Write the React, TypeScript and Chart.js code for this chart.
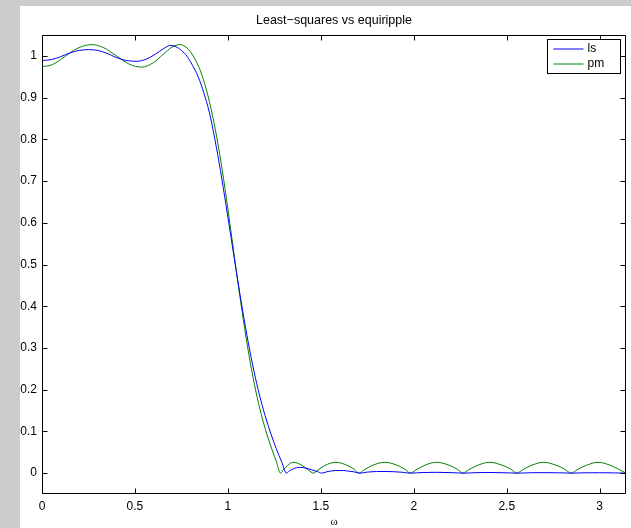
import React, { useEffect, useRef } from "react";
import { Chart, registerables } from "chart.js";

Chart.register(...registerables);

const chartTitle = "Least\u2212squares vs equiripple";
const xAxisLabel = "\u03c9";
const seriesLabels = ["ls", "pm"];
const seriesColors = ["#0000ff", "#008000"];

const xTicks = [0, 0.5, 1, 1.5, 2, 2.5, 3];
const yTicks = [0, 0.1, 0.2, 0.3, 0.4, 0.5, 0.6, 0.7, 0.8, 0.9, 1];
const xMin = 0;
const xMax = 3.1416;
const yMin = -0.05;
const yMax = 1.05;

// least-squares design (ls)
const lsOmega = [
  0.0, 0.05, 0.1, 0.15, 0.2, 0.25, 0.3, 0.35, 0.4, 0.45, 0.51, 0.56, 0.61, 0.65, 0.69, 0.72, 0.75, 0.78,
  0.81, 0.84, 0.87, 0.9, 0.93, 0.96, 0.99, 1.02, 1.05, 1.08, 1.11, 1.14, 1.17, 1.2, 1.23, 1.26, 1.29,
  1.315, 1.33, 1.35, 1.37, 1.39, 1.42, 1.45, 1.48, 1.504, 1.53, 1.56, 1.6, 1.64, 1.68, 1.71, 1.75, 1.8,
  1.84, 1.89, 1.94, 1.98, 2.05, 2.12, 2.2, 2.27, 2.34, 2.41, 2.48, 2.56, 2.63, 2.7, 2.78, 2.85, 2.92, 3.0,
  3.08, 3.1416,
];
const lsValues = [
  0.989, 0.991, 0.998, 1.007, 1.013, 1.015, 1.013, 1.006, 0.996, 0.989, 0.987, 0.992, 1.004, 1.016, 1.025,
  1.022, 1.013, 0.999, 0.977, 0.95, 0.912, 0.865, 0.8, 0.725, 0.642, 0.556, 0.47, 0.388, 0.312, 0.245,
  0.187, 0.138, 0.096, 0.059, 0.026, 0.0, 0.005, 0.01, 0.013, 0.0136, 0.012, 0.008, 0.004, 0.0, 0.003,
  0.0055, 0.0064, 0.0055, 0.003, 0.0, 0.0025, 0.0038, 0.004, 0.0035, 0.002, 0.0, 0.0015, 0.002, 0.0012,
  0.0, 0.0012, 0.0015, 0.001, 0.0, 0.001, 0.0012, 0.0008, 0.0, 0.0008, 0.001, 0.0006, 0.0,
];

// equiripple design (pm)
const pmOmega = [
  0.0, 0.05, 0.1, 0.15, 0.2, 0.267, 0.33, 0.4, 0.47, 0.536, 0.6, 0.65, 0.7, 0.742, 0.78, 0.81, 0.845,
  0.876, 0.91, 0.94, 0.97, 1.0, 1.03, 1.06, 1.09, 1.12, 1.15, 1.18, 1.21, 1.24, 1.26, 1.283, 1.3, 1.32,
  1.351, 1.38, 1.41, 1.435, 1.459, 1.48, 1.52, 1.581, 1.64, 1.68, 1.706, 1.73, 1.78, 1.844, 1.91, 1.95,
  1.982, 2.01, 2.06, 2.122, 2.19, 2.235, 2.265, 2.295, 2.345, 2.409, 2.475, 2.52, 2.555, 2.585, 2.635,
  2.699, 2.765, 2.81, 2.848, 2.878, 2.93, 2.991, 3.05, 3.1, 3.1416,
];
const pmValues = [
  0.974, 0.978, 0.991, 1.007, 1.02, 1.027, 1.02, 1.0, 0.98, 0.973, 0.984, 1.003, 1.021, 1.027, 1.019,
  1.002, 0.972, 0.932, 0.872, 0.805, 0.725, 0.633, 0.535, 0.438, 0.347, 0.266, 0.197, 0.14, 0.093,
  0.053, 0.029, 0.0, 0.009, 0.018, 0.026, 0.023, 0.015, 0.007, 0.0, 0.006, 0.018, 0.026, 0.019, 0.009,
  0.0, 0.007, 0.019, 0.026, 0.019, 0.01, 0.0, 0.007, 0.019, 0.026, 0.019, 0.009, 0.0, 0.008, 0.019,
  0.026, 0.019, 0.01, 0.0, 0.008, 0.019, 0.026, 0.019, 0.01, 0.0, 0.008, 0.019, 0.026, 0.02, 0.01, 0.0,
];

const FONT = '"Liberation Sans", Arial, Helvetica, sans-serif';

const matlabAxes = {
  id: "matlabAxes",
  afterDatasetsDraw(chart: any) {
    const { ctx, chartArea: a, scales } = chart;
    const xs = scales.x;
    const ys = scales.y;
    const L = Math.round(a.left) + 0.5;
    const R = Math.round(a.right) - 0.5;
    const T = Math.round(a.top) + 0.5;
    const B = Math.round(a.bottom) - 0.5;
    const tl = 5;
    ctx.save();
    ctx.strokeStyle = "#000000";
    ctx.lineWidth = 1;
    ctx.beginPath();
    ctx.rect(L, T, R - L, B - T);
    for (const v of xTicks) {
      const px = Math.round(xs.getPixelForValue(v)) + 0.5;
      ctx.moveTo(px, B);
      ctx.lineTo(px, B - tl);
      ctx.moveTo(px, T);
      ctx.lineTo(px, T + tl);
    }
    for (const v of yTicks) {
      const py = Math.round(ys.getPixelForValue(v)) + 0.5;
      ctx.moveTo(L, py);
      ctx.lineTo(L + tl, py);
      ctx.moveTo(R, py);
      ctx.lineTo(R - tl, py);
    }
    ctx.stroke();

    // legend box
    const bw = 73;
    const bh = 34;
    const bx = Math.round(a.right) - 6 - bw + 0.5;
    const by = Math.round(a.top) + 4 + 0.5;
    ctx.fillStyle = "#ffffff";
    ctx.fillRect(bx, by, bw, bh);
    ctx.strokeStyle = "#000000";
    ctx.strokeRect(bx, by, bw, bh);
    ctx.font = `12px ${FONT}`;
    ctx.textBaseline = "middle";
    ctx.textAlign = "left";
    chart.data.datasets.forEach((ds: any, i: number) => {
      const ry = Math.round(by + 9 + i * 15);
      ctx.strokeStyle = seriesColors[i];
      ctx.lineWidth = 1;
      ctx.beginPath();
      ctx.moveTo(bx + 6, ry);
      ctx.lineTo(bx + 36, ry);
      ctx.stroke();
      ctx.fillStyle = "#000000";
      ctx.fillText(ds.label, bx + 40, ry);
    });
    ctx.restore();
  },
};

export default function App() {
  const ref = useRef<HTMLCanvasElement>(null);
  useEffect(() => {
    const canvas = ref.current;
    if (!canvas) return;
    const chart = new Chart(canvas, {
      type: "line",
      data: {
        datasets: [
          {
            label: seriesLabels[0],
            data: lsOmega.map((x, i) => ({ x, y: lsValues[i] })),
            borderColor: seriesColors[0],
            borderWidth: 1,
            pointRadius: 0,
            cubicInterpolationMode: "monotone",
            fill: false,
          },
          {
            label: seriesLabels[1],
            data: pmOmega.map((x, i) => ({ x, y: pmValues[i] })),
            borderColor: seriesColors[1],
            borderWidth: 1,
            pointRadius: 0,
            cubicInterpolationMode: "monotone",
            fill: false,
          },
        ],
      },
      options: {
        animation: false,
        responsive: false,
        devicePixelRatio: 1,
        layout: { padding: { left: 0, right: 5, top: 0, bottom: 0 } },
        plugins: {
          legend: { display: false },
          tooltip: { enabled: false },
          title: {
            display: true,
            text: chartTitle,
            fullSize: false,
            color: "#000000",
            font: { family: FONT, size: 12.5, weight: "normal" },
            padding: { top: 7, bottom: 7 },
          },
        },
        scales: {
          x: {
            type: "linear",
            min: xMin,
            max: xMax,
            grid: { display: false, drawTicks: false },
            border: { display: false },
            afterBuildTicks: (s: any) => {
              s.ticks = xTicks.map((value) => ({ value }));
            },
            afterFit: (s: any) => {
              s.height = 34;
            },
            ticks: {
              autoSkip: false,
              maxRotation: 0,
              padding: 5,
              color: "#000000",
              font: { family: FONT, size: 12 },
              callback: (v: any) => String(Math.round(Number(v) * 10) / 10),
            },
            title: {
              display: true,
              text: xAxisLabel,
              color: "#000000",
              font: { family: '"Liberation Serif", "Times New Roman", serif', size: 11, lineHeight: 1 },
              padding: { top: 0, bottom: 0 },
            },
          },
          y: {
            type: "linear",
            min: yMin,
            max: yMax,
            grid: { display: false, drawTicks: false },
            border: { display: false },
            afterBuildTicks: (s: any) => {
              s.ticks = yTicks.map((value) => ({ value }));
            },
            afterFit: (s: any) => {
              s.width = 22;
            },
            ticks: {
              autoSkip: false,
              padding: 5,
              color: "#000000",
              font: { family: FONT, size: 12 },
              callback: (v: any) => String(Math.round(Number(v) * 10) / 10),
            },
          },
        },
      },
      plugins: [matlabAxes],
    });
    return () => chart.destroy();
  }, []);

  return (
    <div
      style={{
        position: "absolute",
        left: 0,
        top: 0,
        width: 631,
        height: 528,
        background: "#cccccc",
        overflow: "hidden",
      }}
    >
      <div
        style={{
          position: "absolute",
          left: 20,
          top: 6,
          width: 611,
          height: 522,
          background: "#ffffff",
        }}
      >
        <canvas ref={ref} width={611} height={522} style={{ display: "block", width: 611, height: 522 }} />
      </div>
    </div>
  );
}
